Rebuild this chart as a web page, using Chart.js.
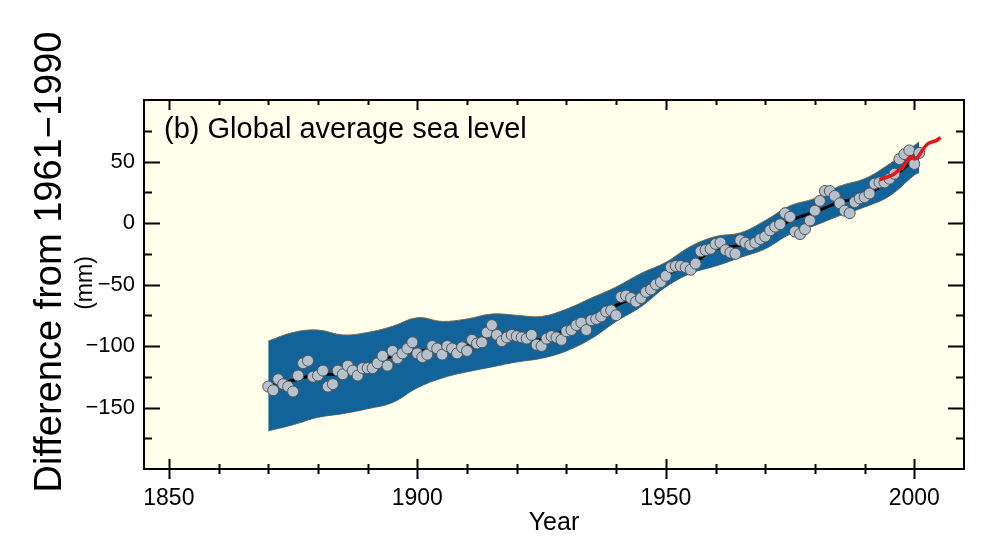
<!DOCTYPE html>
<html>
<head>
<meta charset="utf-8">
<script src="https://cdn.jsdelivr.net/npm/chart.js@4/dist/chart.umd.min.js"></script>
<style>
  html, body { margin: 0; padding: 0; background: #fff; }
  #wrap { width: 1008px; height: 546px; }
</style>
</head>
<body>
<div id="wrap"><canvas id="sea" width="1008" height="546"></canvas></div>
<script>
// annual tide-gauge values (mm, relative to 1961-1990), 1870..2001
const firstYear = 1870;
const annualMm = [
  -133, -136, -127, -131, -133, -137, -124, -114, -112, -125,
  -124, -120, -133, -131, -120, -123, -116, -120, -124, -118,
  -118, -118, -114, -108, -116, -104, -110, -106, -102, -97,
  -106, -109, -107, -100, -102, -107, -100, -102, -106, -101,
  -104, -95, -98, -97, -89, -83, -91, -96, -93, -91,
  -92, -93, -94, -91, -99, -100, -94, -92, -93, -95,
  -88, -87, -83, -81, -87, -79, -78, -76, -72, -71,
  -75, -60, -59, -61, -64, -61, -56, -54, -50, -48,
  -43, -36, -35, -35, -36, -38, -33, -23, -22, -21,
  -17, -16, -22, -24, -25, -14, -16, -18, -16, -13,
  -11, -6, -3, -1, 8, 5, -7, -9, -5, 2,
  10, 18, 26, 26, 22, 16, 10, 8, 17, 20,
  21, 24, 32, 33, 33, 36, 40, 52, 56, 59,
  48, 57
];

// smoothed curve and uncertainty band
const smoothYears = [1870, 1875, 1880, 1885, 1890, 1895, 1900, 1905, 1910, 1915, 1920, 1925, 1930, 1935,
                     1940, 1945, 1950, 1955, 1960, 1965, 1970, 1975, 1980, 1985, 1990, 1995, 2000, 2001];
const smoothMm = [-132, -128, -123, -123, -117, -108, -104, -103, -100, -91, -92, -95, -87, -80,
                  -67, -58, -42, -34, -21, -18, -9, 2, 9, 17, 22, 35, 52, 56];
const bandUpper = [-96, -89, -87, -91, -89, -84, -77, -80, -78, -74, -75, -76, -70, -61,
                   -52, -41, -32, -19, -11, -8, 2, 14, 20, 30, 36, 48, 63, 66];
const bandLower = [-169, -164, -158, -155, -151, -146, -134, -126, -121, -117, -113, -110, -104, -94,
                   -80, -68, -52, -41, -35, -28, -21, -9, -2, 6, 13, 22, 39, 41];

// satellite altimetry
const satYears = [1993.0, 1994.3, 1995.6, 1996.9, 1997.7, 1998.6, 1999.3, 2000.0, 2000.8, 2001.6, 2002.6, 2003.6, 2004.4, 2005.3];
const satMm = [35, 37, 39, 43, 45, 51, 54, 52, 54, 59, 64, 66, 67, 69.5];

const xMajor = [1850, 1900, 1950, 2000];
const xMinor = [1860, 1870, 1880, 1890, 1910, 1920, 1930, 1940, 1960, 1970, 1980, 1990];
const yMajor = [-150, -100, -50, 0, 50];
const yMinor = [-175, -125, -75, -25, 25, 75];

const pts = (xs, ys) => xs.map((x, i) => ({ x: x, y: ys[i] }));
const annualPts = annualMm.map((v, i) => ({ x: firstYear + i, y: v }));

const FONT = '"Liberation Sans", Arial, Helvetica, sans-serif';

const decor = {
  id: 'decor',
  beforeDraw(chart) {
    const { ctx, chartArea: a } = chart;
    ctx.save();
    ctx.fillStyle = '#FFFFEB';
    ctx.fillRect(a.left, a.top, a.right - a.left, a.bottom - a.top);
    ctx.restore();
  },
  afterDraw(chart) {
    const { ctx, chartArea: a, scales } = chart;
    const xs = scales.x, ys = scales.y;
    ctx.save();
    ctx.strokeStyle = '#000';
    ctx.lineWidth = 2;
    ctx.strokeRect(a.left, a.top, a.right - a.left, a.bottom - a.top);
    ctx.beginPath();
    const xt = (v, len) => {
      const p = Math.round(xs.getPixelForValue(v)) + 0.5;
      ctx.moveTo(p, a.bottom - len); ctx.lineTo(p, a.bottom + len);
      ctx.moveTo(p, a.top); ctx.lineTo(p, a.top + len);
    };
    xMajor.forEach(v => xt(v, 10));
    xMinor.forEach(v => xt(v, 5));
    const yt = (v, len) => {
      const p = Math.round(ys.getPixelForValue(v)) + 0.5;
      ctx.moveTo(a.left, p); ctx.lineTo(a.left + len, p);
      ctx.moveTo(a.right, p); ctx.lineTo(a.right - len, p);
    };
    yMajor.forEach(v => yt(v, 16));
    yMinor.forEach(v => yt(v, 8));
    ctx.stroke();

    ctx.fillStyle = '#000';
    ctx.textBaseline = 'alphabetic';
    ctx.textAlign = 'left';
    ctx.font = '29px ' + FONT;
    ctx.fillText('(b) Global average sea level', a.left + 20, a.top + 38);

    ctx.save();
    ctx.translate(61, 262);
    ctx.rotate(-Math.PI / 2);
    ctx.textAlign = 'center';
    ctx.font = '38px ' + FONT;
    ctx.fillText('Difference from 1961\u22121990', 0, 0);
    ctx.restore();

    ctx.save();
    ctx.translate(92, 283);
    ctx.rotate(-Math.PI / 2);
    ctx.textAlign = 'center';
    ctx.font = '23px ' + FONT;
    ctx.fillText('(mm)', 0, 0);
    ctx.restore();
    ctx.restore();
  }
};

new Chart(document.getElementById('sea'), {
  type: 'line',
  data: {
    datasets: [
      {
        label: 'Satellite altimetry',
        data: pts(satYears, satMm),
        borderColor: '#E3161B',
        borderWidth: 3.5,
        pointRadius: 0,
        tension: 0.3,
        fill: false,
        order: 1
      },
      {
        label: 'Annual',
        data: annualPts,
        showLine: false,
        pointRadius: 5.5,
        pointBackgroundColor: '#B5C2CE',
        pointBorderColor: '#555555',
        pointBorderWidth: 1,
        order: 2
      },
      {
        label: 'Smoothed',
        data: pts(smoothYears, smoothMm),
        borderColor: '#000',
        borderWidth: 3,
        pointRadius: 0,
        tension: 0.4,
        fill: false,
        order: 3
      },
      {
        label: 'Upper',
        data: pts(smoothYears, bandUpper),
        borderColor: '#7a6a4a',
        borderWidth: 1,
        pointRadius: 0,
        tension: 0.4,
        backgroundColor: '#11639A',
        fill: '+1',
        order: 4
      },
      {
        label: 'Lower',
        data: pts(smoothYears, bandLower),
        borderColor: '#7a6a4a',
        borderWidth: 1,
        pointRadius: 0,
        tension: 0.4,
        fill: false,
        order: 5
      }
    ]
  },
  options: {
    responsive: false,
    animation: false,
    devicePixelRatio: 1,
    layout: { padding: { top: 100, right: 44, left: 0, bottom: 0 } },
    plugins: { legend: { display: false }, tooltip: { enabled: false } },
    scales: {
      x: {
        type: 'linear',
        min: 1845,
        max: 2010,
        border: { display: false },
        grid: { display: false, drawTicks: false },
        afterBuildTicks: s => { s.ticks = xMajor.map(v => ({ value: v })); },
        afterFit: s => { s.height = 77; },
        ticks: { padding: 16, color: '#000', font: { family: FONT, size: 23 }, maxRotation: 0,
                 callback: v => String(v) },
        title: { display: true, text: 'Year', color: '#000', font: { family: FONT, size: 25 }, padding: { top: 0, bottom: 8 } }
      },
      y: {
        min: -200,
        max: 100,
        border: { display: false },
        grid: { display: false, drawTicks: false },
        afterBuildTicks: s => { s.ticks = yMajor.map(v => ({ value: v })); },
        afterFit: s => { s.width = 144; },
        ticks: {
          padding: 9, color: '#000', font: { family: FONT, size: 22 },
          callback: v => (v < 0 ? '\u2212' + Math.abs(v) : String(v))
        }
      }
    }
  },
  plugins: [decor]
});
</script>
</body>
</html>
